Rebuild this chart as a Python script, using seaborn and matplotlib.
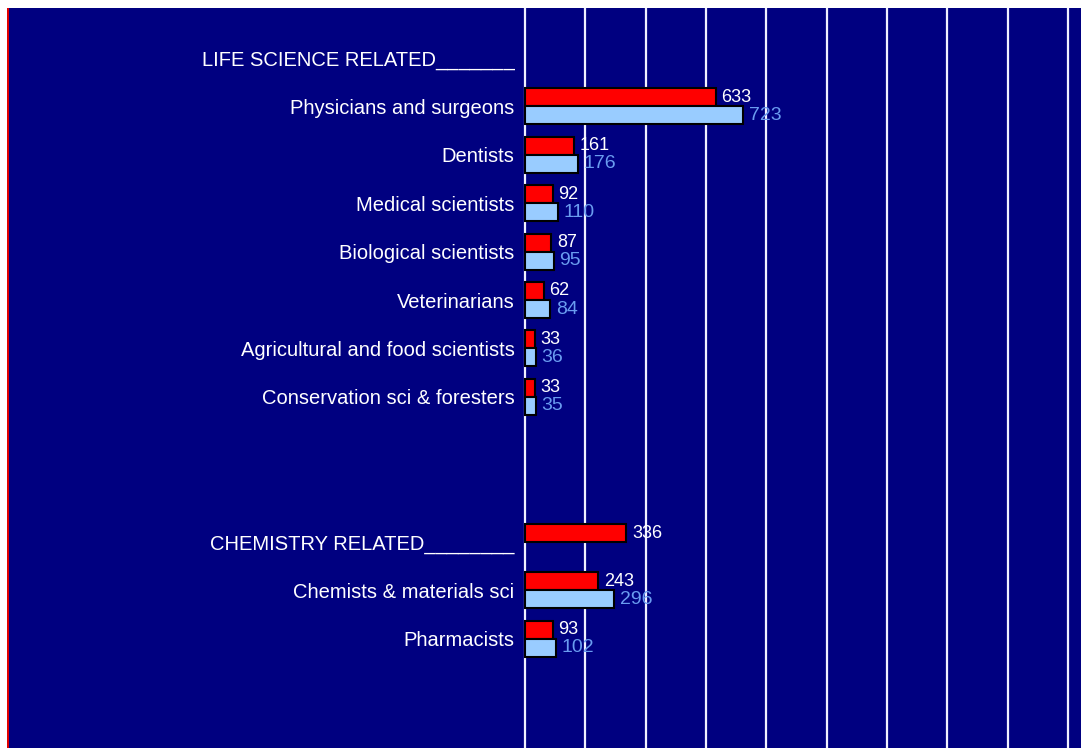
#!/usr/bin/env python3
# coding=utf-8
import matplotlib
matplotlib.use('Agg')
import matplotlib.pyplot as plt
from matplotlib.patches import Rectangle
import pandas as pd
import seaborn as sns


categories = ['LIFE SCIENCE RELATED_______', 'Physicians and surgeons', 'Dentists',
              'Medical scientists', 'Biological scientists', 'Veterinarians',
              'Agricultural and food scientists', 'Conservation sci & foresters',
              ' ', '  ', 'CHEMISTRY RELATED________', 'Chemists & materials sci',
              'Pharmacists']
red_values = [None, 633, 161, 92, 87, 62, 33, 33, None, None, 336, 243, 93]
blue_values = [None, 723, 176, 110, 95, 84, 36, 35, None, None, None, 296, 102]
series = ['red', 'blue']

NAVY = '#000080'
palette = {'red': '#FF0000', 'blue': '#99CCFF'}
label_colors = {'red': 'white', 'blue': '#6A9CF0'}
label_sizes = {'red': 13, 'blue': 14}

rows = []
for cat, r, b in zip(categories, red_values, blue_values):
    if r is not None:
        rows.append({'category': cat, 'series': 'red', 'value': r})
    if b is not None:
        rows.append({'category': cat, 'series': 'blue', 'value': b})
df = pd.DataFrame(rows)

sns.set_style('white')
plt.rcParams['font.family'] = ['Liberation Sans', 'DejaVu Sans']

W, H = 1081, 748
fig = plt.figure(figsize=(W / 100, H / 100), dpi=100, facecolor=NAVY)
# white frame strips and red edge line of the original applet
fig.patches.append(Rectangle((0, (H - 8) / H), 1, 8 / H, transform=fig.transFigure,
                             facecolor='white', edgecolor='none', zorder=5))
fig.patches.append(Rectangle((0, 0), 7 / W, 1, transform=fig.transFigure,
                             facecolor='white', edgecolor='none', zorder=5))
fig.patches.append(Rectangle((7 / W, 0), 1.5 / W, (H - 8) / H, transform=fig.transFigure,
                             facecolor='#E00000', edgecolor='none', zorder=5))

ax = fig.add_axes([520 / W, 0, (W - 520) / W, (H - 8) / H])
ax.set_facecolor(NAVY)

sns.barplot(data=df, y='category', x='value', hue='series', order=categories,
            hue_order=series, palette=palette, orient='h', width=0.744,
            edgecolor='black', linewidth=1.5, saturation=1, dodge=True, ax=ax)

units_per_px = 633 / 191.0
ax.set_xlim(-5 * units_per_px, (W - 525) * units_per_px)
ax.set_ylim(14.256, -1.033)

ax.set_xticks(range(0, 2000, 200))
ax.xaxis.grid(True, color='#F0F0FF', linewidth=1.6)
ax.set_axisbelow(True)
ax.tick_params(axis='x', labelbottom=False, length=0)
ax.tick_params(axis='y', length=0, pad=4, labelcolor='white', labelsize=14.5)
ax.set_xlabel('')
ax.set_ylabel('')
for s in ax.spines.values():
    s.set_visible(False)

for cont, name in zip(ax.containers, series):
    ax.bar_label(cont, labels=[('%d' % v) for v in cont.datavalues], padding=4,
                 color=label_colors[name], fontsize=label_sizes[name])

ax.legend_.remove()

plt.savefig('out.png', dpi=100, facecolor=NAVY)
plt.close('all')
